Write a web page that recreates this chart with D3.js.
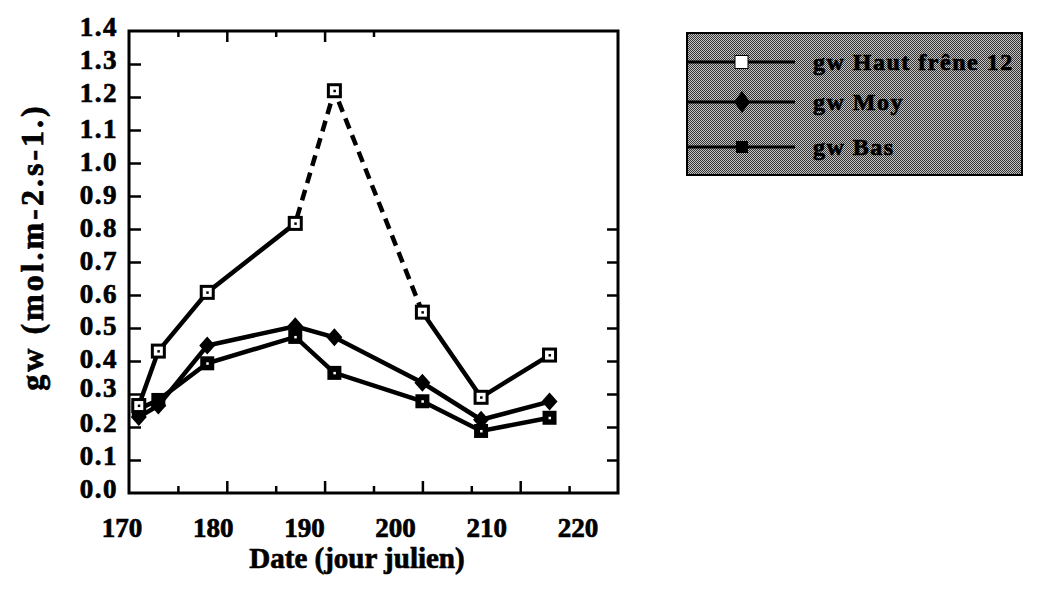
<!DOCTYPE html>
<html>
<head>
<meta charset="utf-8">
<script src="https://cdn.jsdelivr.net/npm/d3@7/dist/d3.min.js"></script>
<style>
  html, body { margin: 0; padding: 0; background: #fff; }
  svg { display: block; }
  text { font-family: "Liberation Serif", "Times New Roman", serif; font-weight: bold; fill: #000;
         stroke: #000; stroke-width: 0.7px; }
</style>
</head>
<body>
<svg id="chart" width="1052" height="597"></svg>
<script>
// Julian days of the measurement campaigns
const days = [171, 173, 178, 187, 191, 200, 206, 213];
// Stomatal conductance gw (mol.m-2.s-1) per canopy level
const gwHaut = [0.265, 0.43, 0.608, 0.817, 1.219, 0.548, 0.29, 0.418];
const gwMoy  = [0.23, 0.265, 0.447, 0.505, 0.472, 0.334, 0.222, 0.277];
const gwBas  = [0.255, 0.282, 0.393, 0.473, 0.364, 0.278, 0.188, 0.228];
const seriesNames = ["gw Haut frêne 12", "gw Moy", "gw Bas"];
const xTicks = [170, 180, 190, 200, 210, 220];
const xMinorTicks = [175, 185, 195, 205, 215];
const yTicks = [0.0, 0.1, 0.2, 0.3, 0.4, 0.5, 0.6, 0.7, 0.8, 0.9, 1.0, 1.1, 1.2, 1.3, 1.4];
const xTitle = "Date (jour julien)";
const yTitle = "gw (mol.m-2.s-1.)";

const svg = d3.select("#chart");
const frame = { left: 129, right: 618, top: 31, bottom: 493 };

const x = d3.scaleLinear().domain([170, 220]).range([frame.left, frame.right]);
const y = d3.scaleLinear().domain([0, 1.4]).range([frame.bottom, frame.top]);
// tick labels sit on a slightly tighter spread than the ticks themselves
const xLabel = d3.scaleLinear().domain([170, 220]).range([122, 578]);

// ---- frame and ticks ----
svg.append("rect")
  .attr("x", frame.left).attr("y", frame.top)
  .attr("width", frame.right - frame.left).attr("height", frame.bottom - frame.top)
  .attr("fill", "none").attr("stroke", "#000").attr("stroke-width", 3);

function tickGroup(axis, transform) {
  const g = svg.append("g").attr("transform", transform).call(axis);
  g.select(".domain").remove();
  g.selectAll(".tick line").attr("stroke", "#000").attr("stroke-width", 2.5);
  return g;
}

// left axis ticks (inward)
tickGroup(d3.axisRight(y).tickValues(yTicks.filter(v => v > 0 && v < 1.4)).tickSize(12).tickFormat(""),
  `translate(${frame.left},0)`);
// right axis ticks (inward), lower part of the frame
tickGroup(d3.axisLeft(y).tickValues(yTicks.filter(v => v > 0 && v <= 0.8)).tickSize(11).tickFormat(""),
  `translate(${frame.right},0)`);
// bottom axis ticks (inward): major and minor
tickGroup(d3.axisTop(x).tickValues(xTicks.filter(v => v > 170 && v < 220)).tickSize(12).tickFormat(""),
  `translate(0,${frame.bottom})`);
tickGroup(d3.axisTop(x).tickValues(xMinorTicks).tickSize(7).tickFormat(""),
  `translate(0,${frame.bottom})`);
// top axis ticks (inward), first part of the frame
tickGroup(d3.axisBottom(x).tickValues([180, 190]).tickSize(11).tickFormat(""),
  `translate(0,${frame.top})`);
tickGroup(d3.axisBottom(x).tickValues([175, 185, 195]).tickSize(6).tickFormat(""),
  `translate(0,${frame.top})`);

// ---- tick labels ----
svg.append("g").selectAll("text").data(xTicks).join("text")
  .attr("x", d => xLabel(d)).attr("y", 537)
  .attr("text-anchor", "middle")
  .attr("font-size", 27)
  .text(d => d);

// small vertical offsets of the value labels relative to their ticks
const yNudge = v => {
  const k = Math.round(v * 10);
  if (k === 3) return -6;
  if (k === 4 || k === 5) return -2;
  return (k >= 12 || k <= 2) ? -4 : -1;
};
svg.append("g").selectAll("text").data(yTicks).join("text")
  .attr("x", 118).attr("y", d => y(d) + yNudge(d))
  .attr("dy", "0.35em")
  .attr("text-anchor", "end")
  .attr("font-size", 27)
  .attr("letter-spacing", 1.5)
  .text(d => d3.format(".1f")(d));

// ---- axis titles ----
svg.append("text")
  .attr("x", 357).attr("y", 568)
  .attr("text-anchor", "middle")
  .attr("font-size", 29)
  .text(xTitle);

svg.append("text")
  .attr("transform", "translate(43,247) rotate(-90)")
  .attr("text-anchor", "middle")
  .attr("font-size", 32)
  .attr("letter-spacing", 3)
  .text(yTitle);

// ---- series ----
const pts = vals => days.map((d, i) => [x(d), y(vals[i])]);
const line = d3.line();
const plot = svg.append("g").attr("fill", "none").attr("stroke", "#000")
  .attr("stroke-width", 4.5).attr("stroke-linejoin", "miter");

// the high-canopy trace is dashed across the campaigns between days 187 and 200
const hautPts = pts(gwHaut);
const dashFrom = days.indexOf(187), dashTo = days.indexOf(200);
plot.append("path").attr("d", line(hautPts.slice(0, dashFrom + 1)));
plot.append("path").attr("d", line(hautPts.slice(dashFrom, dashTo + 1)))
  .attr("stroke-dasharray", "11,7").attr("stroke-dashoffset", -6);
plot.append("path").attr("d", line(hautPts.slice(dashTo)));
plot.append("path").attr("d", line(pts(gwMoy)));
plot.append("path").attr("d", line(pts(gwBas)));

// markers: Bas (black squares with a light centre)
const mk = svg.append("g");
mk.selectAll(".bas").data(pts(gwBas)).join("g").attr("class", "bas")
  .attr("transform", d => `translate(${d[0]},${d[1]})`)
  .each(function () {
    const g = d3.select(this);
    g.append("rect").attr("x", -7).attr("y", -7).attr("width", 14).attr("height", 14).attr("fill", "#000");
    g.append("rect").attr("x", -1).attr("y", -1).attr("width", 2.5).attr("height", 2.5).attr("fill", "#fff");
  });

// Moy (filled diamonds)
mk.selectAll(".moy").data(pts(gwMoy)).join("path").attr("class", "moy")
  .attr("transform", d => `translate(${d[0]},${d[1]})`)
  .attr("d", "M0,-9L8,0L0,9L-8,0Z").attr("fill", "#000");

// Haut (open squares with a dot)
mk.selectAll(".haut").data(hautPts).join("g").attr("class", "haut")
  .attr("transform", d => `translate(${d[0]},${d[1]})`)
  .each(function () {
    const g = d3.select(this);
    g.append("rect").attr("x", -6).attr("y", -6).attr("width", 12).attr("height", 12)
      .attr("fill", "#fff").attr("stroke", "#000").attr("stroke-width", 3);
    g.append("rect").attr("x", -1).attr("y", -1).attr("width", 2.5).attr("height", 2.5).attr("fill", "#000");
  });

// ---- legend ----
const defs = svg.append("defs");
const pat = defs.append("pattern").attr("id", "dither")
  .attr("patternUnits", "userSpaceOnUse").attr("width", 2).attr("height", 2);
pat.append("rect").attr("width", 2).attr("height", 2).attr("fill", "#c4c4c4");
pat.append("rect").attr("x", 0).attr("y", 0).attr("width", 1).attr("height", 1).attr("fill", "#333");
pat.append("rect").attr("x", 1).attr("y", 1).attr("width", 1).attr("height", 1).attr("fill", "#333");

const lg = svg.append("g");
lg.append("rect").attr("x", 687).attr("y", 33).attr("width", 335).attr("height", 142)
  .attr("fill", "url(#dither)").attr("stroke", "#000").attr("stroke-width", 2)
  .attr("shape-rendering", "crispEdges");

const rowY = [62, 102, 147];
const rows = lg.selectAll(".row").data(seriesNames).join("g").attr("class", "row")
  .attr("transform", (d, i) => `translate(0,${rowY[i]})`);
rows.append("line").attr("x1", 688).attr("x2", 795).attr("stroke", "#000").attr("stroke-width", 3);
rows.append("text").attr("x", 813).attr("dy", "0.35em")
  .attr("font-size", 24).attr("letter-spacing", 1.5).text(d => d);

rows.filter((d, i) => i === 0).append("rect")
  .attr("x", 735).attr("y", -6.5).attr("width", 13).attr("height", 13)
  .attr("fill", "#fff").attr("stroke", "#000").attr("stroke-width", 1);
rows.filter((d, i) => i === 1).append("path")
  .attr("d", "M742,-11L750,0L742,11L734,0Z").attr("fill", "#000");
rows.filter((d, i) => i === 2).append("rect")
  .attr("x", 736).attr("y", -6).attr("width", 12).attr("height", 12).attr("fill", "#000");
</script>
</body>
</html>
